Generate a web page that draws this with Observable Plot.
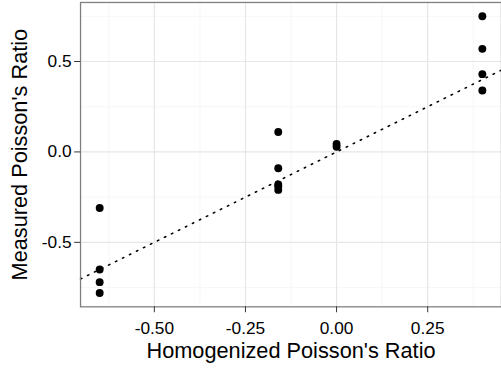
<!DOCTYPE html>
<html><head><meta charset="utf-8">
<script src="https://cdn.jsdelivr.net/npm/d3@7"></script>
<script src="https://cdn.jsdelivr.net/npm/@observablehq/plot@0.6"></script>
<style>html,body{margin:0;padding:0;overflow:hidden;background:#fff}#chart{width:501px;overflow:hidden}</style>
</head><body><div id="chart"></div>
<script>
const homogenized = [-0.65,-0.65,-0.65,-0.65,-0.16,-0.16,-0.16,-0.16,-0.16,0,0,0.40,0.40,0.40,0.40];
const measured = [-0.31,-0.65,-0.72,-0.78,0.11,-0.09,-0.18,-0.19,-0.21,0.044,0.029,0.75,0.57,0.43,0.34];
const xTicks = [-0.5,-0.25,0,0.25];
const yTicks = [-0.5,0,0.5];
const xMinor = [-0.625,-0.375,-0.125,0.125,0.375];
const yMinor = [-0.75,-0.25,0.25,0.75];
const xTitle = "Homogenized Poisson's Ratio";
const yTitle = "Measured Poisson's Ratio";

const data = homogenized.map((h, i) => ({h, m: measured[i]}));
function expand([a, b]) { const d = (b - a) * 0.05; return [a - d, b + d]; }
const xDom = expand(d3.extent(homogenized));
const yDom = expand(d3.extent(measured));
const identity = xDom.map(v => ({h: v, m: v}));
const font = "'Liberation Sans', Arial, Helvetica, sans-serif";

const chart = Plot.plot({
  width: 507, height: 369,
  marginLeft: 81, marginRight: 0, marginTop: 2, marginBottom: 59,
  style: {fontFamily: font, background: "#fff", color: "#000"},
  x: {domain: xDom},
  y: {domain: yDom},
  marks: [
    Plot.gridX(xMinor, {stroke: "#f3f3f3", strokeOpacity: 1, strokeWidth: 0.8}),
    Plot.gridY(yMinor, {stroke: "#f3f3f3", strokeOpacity: 1, strokeWidth: 0.8}),
    Plot.gridX(xTicks, {stroke: "#e6e6e6", strokeOpacity: 1, strokeWidth: 1.2}),
    Plot.gridY(yTicks, {stroke: "#e6e6e6", strokeOpacity: 1, strokeWidth: 1.2}),
    Plot.line(identity, {x: "h", y: "m", stroke: "#000", strokeWidth: 1.6, strokeDasharray: "1.5,6.4"}),
    Plot.dot(data, {x: "h", y: "m", r: 4, fill: "#000", stroke: "none"}),
    Plot.frame({stroke: "#7f7f7f", strokeWidth: 1.3}),
    Plot.axisX(xTicks, {tickSize: 6, tickPadding: 9, fontSize: 17.5, tickFormat: d => d.toFixed(2), label: null, stroke: "#333", color: "#000"}),
    Plot.axisY(yTicks, {tickSize: 6, tickPadding: 3, fontSize: 17.5, tickFormat: d => d.toFixed(1), label: null, stroke: "#333", color: "#000"}),
    Plot.text([xTitle], {frameAnchor: "bottom", dy: 45, fontSize: 22, fill: "#000", lineAnchor: "middle", textAnchor: "middle"}),
    Plot.text([yTitle], {frameAnchor: "left", dx: -61, rotate: -90, fontSize: 22, fill: "#000", lineAnchor: "middle", textAnchor: "middle"})
  ]
});
document.getElementById("chart").appendChild(chart);
</script></body></html>
